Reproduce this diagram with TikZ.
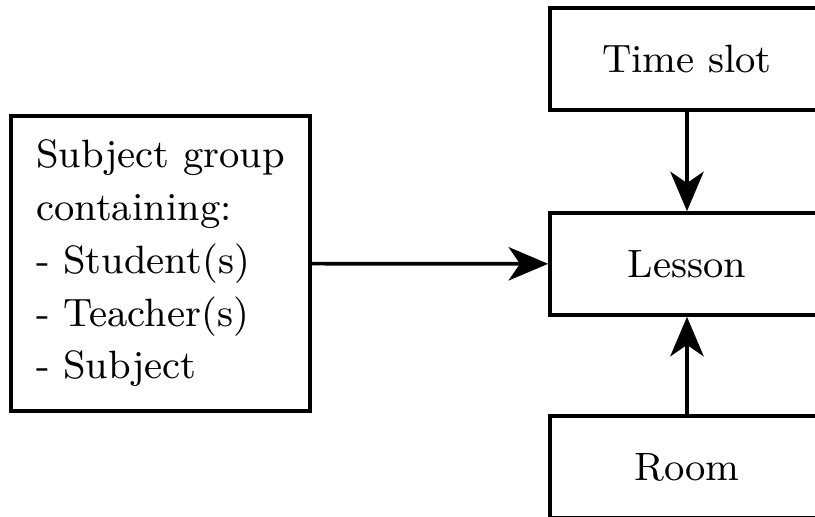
\documentclass[tikz,border=0pt]{standalone}
\usetikzlibrary{arrows.meta}
\begin{document}
\begin{tikzpicture}[x=0.2277pt,y=-0.2277pt,
  every node/.style={font=\fontsize{9}{12}\selectfont},
  box/.style={draw,line width=0.85pt,minimum width=62.4pt,minimum height=23.2pt,inner sep=0pt},
  conn/.style={line width=0.85pt,-{Stealth[length=9pt,width=7.6pt,inset=2.6pt]}}]
\useasboundingbox (0,0) rectangle (815,517);
\clip (0,0) rectangle (815,517);
\node[box] (time) at (687,59) {Time slot};
\node[box] (lesson) at (687,264) {Lesson};
\node[box] (room) at (687,467) {Room};
\node[draw,line width=0.85pt,minimum width=68.1pt,minimum height=67.2pt,inner sep=0pt,
  align=left] (group) at (160.5,263.5)
  {Subject group\\containing:\\- Student(s)\\- Teacher(s)\\- Subject};
\draw[conn] (group) -- (lesson);
\draw[conn] (time) -- (lesson);
\draw[conn] (room) -- (lesson);
\end{tikzpicture}
\end{document}
